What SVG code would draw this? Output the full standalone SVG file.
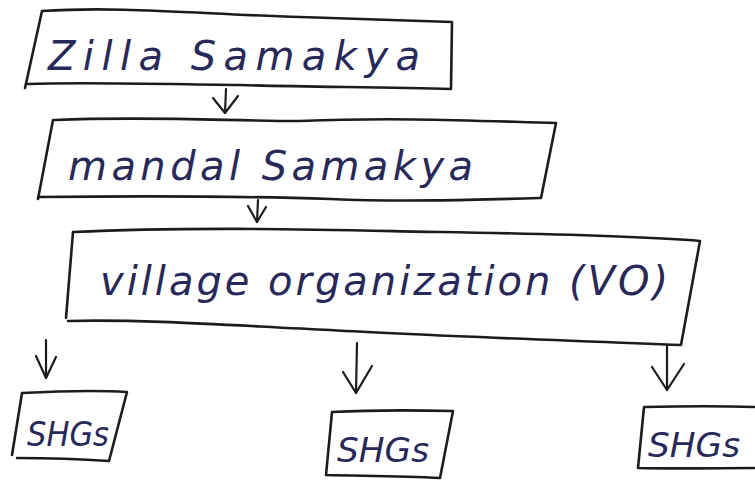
<svg xmlns="http://www.w3.org/2000/svg" width="755" height="482" viewBox="0 0 755 482">
  <defs>
    <style>
      .box { fill: none; stroke: #1c1c1c; stroke-width: 2.6; stroke-linecap: round; stroke-linejoin: round; }
      .conn { fill: none; stroke: #1c1c1c; stroke-width: 2.2; stroke-linecap: round; stroke-linejoin: round; }
      .lbl { font-family: "DejaVu Sans", "Liberation Sans", sans-serif; font-style: italic; fill: #27295a; }
      .big { font-size: 40px; }
      .small { font-size: 33px; }
    </style>
  </defs>
  <rect width="755" height="482" fill="#ffffff"/>

  <!-- hierarchy connectors: a stem with an open V head -->
  <g id="connectors">
    <path class="conn" d="M226 89 L225 113"/>
    <path class="conn" d="M213 98 L225 113 L238 96"/>
    <path class="conn" d="M258 200 L257 222"/>
    <path class="conn" d="M248 206 L257 222 L266 207"/>
    <path class="conn" d="M46 340 L46 378"/>
    <path class="conn" d="M36 356 L46 378 L56 357"/>
    <path class="conn" d="M357 343 L356 393"/>
    <path class="conn" d="M343 372 L356 393 L372 366"/>
    <path class="conn" d="M667 345 L667 390"/>
    <path class="conn" d="M652 367 L667 390 L684 364"/>
  </g>

  <g id="zilla-samakya">
    <path class="box" d="M42 11 C120 6 200 14 300 17 C370 19 420 21 452 22 L451 89 C380 87 300 87 240 85 C160 84 80 82 28 84 M42 11 L25 88"/>
    <text class="lbl big" x="48" y="70" textLength="372" lengthAdjust="spacing">Zilla  Samakya</text>
  </g>

  <g id="mandal-samakya">
    <path class="box" d="M55 120 C150 116 230 121 300 121 C400 117 480 121 556 123 L541 198 C470 200 400 202 330 199 C240 196 130 196 38 197 M53 120 L38 199"/>
    <text class="lbl big" x="68" y="180" textLength="405" lengthAdjust="spacing">mandal  Samakya</text>
  </g>

  <g id="village-organization">
    <path class="box" d="M73 232 C200 226 330 230 440 232 C560 234 640 236 700 241 L681 345 C560 340 430 336 330 330 C240 326 150 319 68 321 M73 232 L66 318"/>
    <text class="lbl big" x="100" y="295" textLength="568" lengthAdjust="spacing">village  organization (VO)</text>
  </g>

  <g id="shgs-left">
    <path class="box" d="M22 393 C60 391 95 390 127 392 L109 461 C80 459 50 458 17 458 M22 393 L12 455"/>
    <text class="lbl small" x="27" y="446" textLength="82" lengthAdjust="spacingAndGlyphs">SHGs</text>
  </g>

  <g id="shgs-middle">
    <path class="box" d="M332 412 C370 410 410 410 453 411 L440 478 C400 476 365 476 326 475 Z"/>
    <text class="lbl small" x="337" y="462" textLength="92" lengthAdjust="spacingAndGlyphs">SHGs</text>
  </g>

  <g id="shgs-right">
    <path class="box" d="M644 407 C690 406 720 406 754 407 M638 468 C680 469 720 468 754 468 M644 407 L638 468"/>
    <text class="lbl small" x="648" y="457" textLength="92" lengthAdjust="spacingAndGlyphs">SHGs</text>
  </g>
</svg>
